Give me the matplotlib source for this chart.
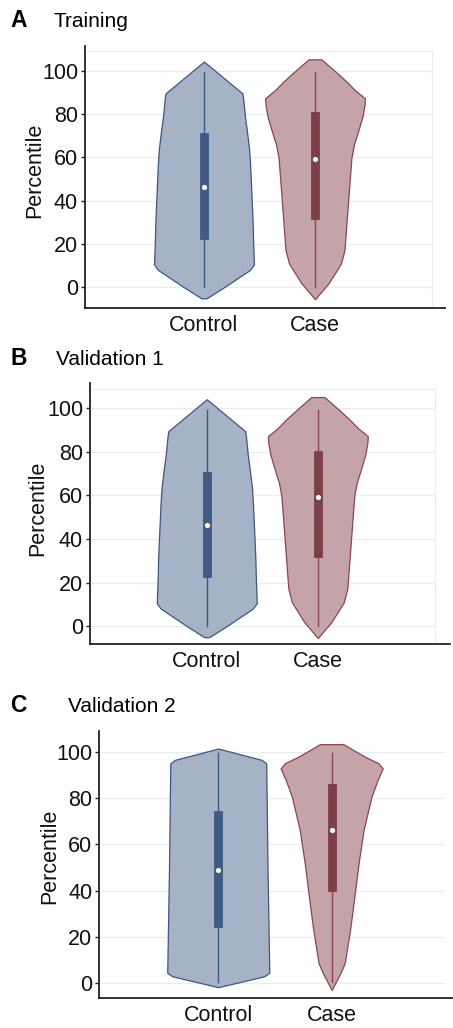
import matplotlib
matplotlib.use('Agg')
import matplotlib.pyplot as plt
import numpy as np

plt.rcParams['font.family'] = ['Liberation Sans', 'DejaVu Sans']

# Categories
groups = ['Control', 'Case']

# Violin outlines: percentile levels and relative density (max = 1)
ctrl_a_pct = [-5.1, 0, 4, 8, 10.5, 20, 32.6, 48, 56, 63.4, 72, 78.8, 86, 89.5, 104.2]
ctrl_a_dens = [0.05, 0.40, 0.66, 0.92, 1.0, 0.985, 0.97, 0.94, 0.925, 0.905, 0.86, 0.82, 0.79, 0.77, 0.0]
case_a_pct = [-5.5, 1.8, 8, 11, 17.2, 32.6, 48, 60, 66, 71, 78.8, 84, 87.2, 91, 95, 100, 105.2]
case_a_dens = [0.0, 0.27, 0.44, 0.52, 0.59, 0.64, 0.69, 0.73, 0.78, 0.85, 0.95, 0.99, 1.0, 0.8, 0.63, 0.39, 0.13]

# Validation 1 (same distribution as training)
ctrl_b_pct = [-5.1, 0, 4, 8, 10.5, 20, 32.6, 48, 56, 63.4, 72, 78.8, 86, 89.5, 104.2]
ctrl_b_dens = [0.05, 0.40, 0.66, 0.92, 1.0, 0.985, 0.97, 0.94, 0.925, 0.905, 0.86, 0.82, 0.79, 0.77, 0.0]
case_b_pct = [-5.5, 1.8, 8, 11, 17.2, 32.6, 48, 60, 66, 71, 78.8, 84, 87.2, 91, 95, 100, 105.2]
case_b_dens = [0.0, 0.27, 0.44, 0.52, 0.59, 0.64, 0.69, 0.73, 0.78, 0.85, 0.95, 0.99, 1.0, 0.8, 0.63, 0.39, 0.13]

ctrl_c_pct = [-1.7, 3, 4.5, 50, 95, 96.5, 101.4]
ctrl_c_dens = [0.0, 0.9, 1.0, 0.965, 0.94, 0.85, 0.0]
case_c_pct = [-2.9, 4.3, 8.6, 23, 37.4, 51.8, 66.2, 80.6, 87.8, 92.8, 95, 97.8, 100.7, 103.3]
case_c_dens = [0.0, 0.17, 0.255, 0.36, 0.445, 0.527, 0.625, 0.78, 0.9, 1.0, 0.92, 0.66, 0.43, 0.23]

# Box summaries: [whisker low, q1, median, q3, whisker high]
ctrl_a_box = [0, 22.4, 46.2, 71.0, 99.2]
case_a_box = [0, 31.6, 59.2, 80.8, 99.2]
ctrl_b_box = [0, 22.6, 46.3, 70.9, 99.2]
case_b_box = [0, 31.7, 59.1, 80.6, 99.2]
ctrl_c_box = [0.4, 24.5, 49.1, 74.3, 99.6]
case_c_box = [0.6, 39.9, 66.4, 86.2, 99.6]

yticks = [0, 20, 40, 60, 80, 100]

fill_colors = ['#a6b2c6', '#c4a4a9']
edge_colors = ['#3d5683', '#8b4450']
box_colors = ['#415a83', '#7c3f49']
grid_color = '#e9edf1'
fs = 15.5

fig = plt.figure(figsize=(4.53, 10.28), dpi=100)


def draw_panel(rect, letter, title, title_y, title_x, violins, boxes,
               xlim, ylim, grid_end, label_xy, frame_top=None):
    ax = fig.add_axes(rect)
    ax.set_xlim(*xlim)
    ax.set_ylim(*ylim)

    # light grid
    for t in yticks:
        ax.plot([xlim[0], grid_end], [t, t], color=grid_color, lw=0.9, zorder=0)
    if frame_top is not None:
        ax.plot([xlim[0], grid_end], [frame_top, frame_top], color=grid_color, lw=0.9, zorder=0)
        ax.plot([grid_end, grid_end], [ylim[0], frame_top], color=grid_color, lw=0.9, zorder=0)

    for i, ((pct, dens), box) in enumerate(zip(violins, boxes)):
        pos = i + 1
        half = 0.45 * np.array(dens)
        ax.fill_betweenx(pct, pos - half, pos + half, facecolor=fill_colors[i],
                         edgecolor=edge_colors[i], lw=0.9, zorder=2)
        lo, q1, med, q3, hi = box
        ax.plot([pos, pos], [lo, hi], color=edge_colors[i], lw=1.0, zorder=3)
        ax.bar(pos, q3 - q1, bottom=q1, width=0.072, color=box_colors[i],
               edgecolor=box_colors[i], lw=0.6, zorder=4)
        ax.scatter([pos], [med], s=14, color='white', zorder=5, linewidths=0)

    ax.set_xticks([1, 2])
    ax.set_xticklabels(groups)
    ax.set_yticks(yticks)
    ax.tick_params(axis='x', length=0, pad=5, labelsize=fs, colors='#111111')
    ax.tick_params(axis='y', length=3, width=1, pad=2, labelsize=fs,
                   colors='#111111', color='#222222')
    for s in ['top', 'right']:
        ax.spines[s].set_visible(False)
    for s in ['left', 'bottom']:
        ax.spines[s].set_color('#222222')
        ax.spines[s].set_linewidth(1.3)

    ax.set_ylabel('Percentile', fontsize=fs, color='#111111')
    ax.yaxis.set_label_coords(*label_xy)

    fig.text(10 / 453, 1 - title_y / 1028, letter, fontsize=16.5, fontweight='bold',
             va='baseline', ha='left')
    fig.text(title_x / 453, 1 - title_y / 1028, title, fontsize=15,
             va='baseline', ha='left')
    return ax


draw_panel([0.1876, 0.7004, 0.7947, 0.2549], 'A', 'Training', 27, 53,
           [(ctrl_a_pct, ctrl_a_dens), (case_a_pct, case_a_dens)],
           [ctrl_a_box, case_a_box],
           (-0.072, 3.171), (-9.56, 111.4), 3.054, (-0.111, 0.527), frame_top=109.1)

draw_panel([0.1987, 0.3732, 0.7947, 0.2539], 'B', 'Validation 1', 365, 56,
           [(ctrl_b_pct, ctrl_b_dens), (case_b_pct, case_b_dens)],
           [ctrl_b_box, case_b_box],
           (-0.051, 3.19), (-8.4, 111.5), 3.054, (-0.117, 0.522), frame_top=108.7)

draw_panel([0.2192, 0.0289, 0.7808, 0.2603], 'C', 'Validation 2', 712, 68,
           [(ctrl_c_pct, ctrl_c_dens), (case_c_pct, case_c_dens)],
           [ctrl_c_box, case_c_box],
           (-0.049, 3.07), (-6.5, 109.1), 2.99, (-0.111, 0.532))

fig.savefig('out.png', dpi=100)
